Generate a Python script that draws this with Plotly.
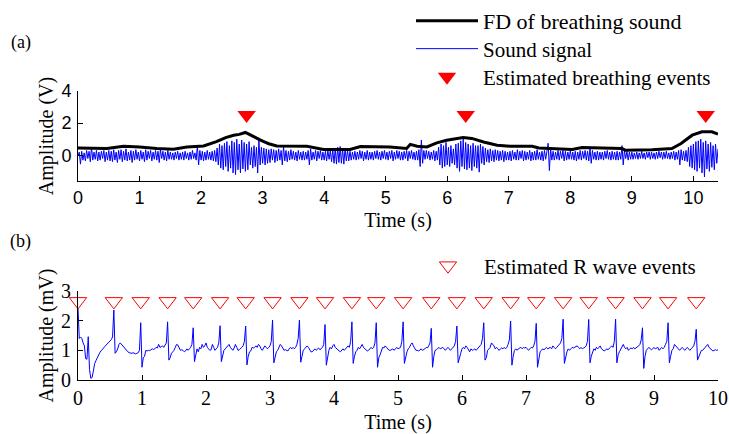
import numpy as np
import plotly.graph_objects as go

# ---------------- data ----------------
# (a) sound signal, sampled every 0.02 s from 0 to 10.4 s (read from picture)
sound_dt = 0.02
sound_rows = [
    [-0.05, 0.2, -0.55, 0.25, -0.3, 0.15, -0.35, 0.3, -0.2, 0.25, -0.4, 0.5, -0.3, 0.2, -0.25, 0.3, -0.35, 0.2, -0.3, 0.25, -0.2, 0.3, -0.4, 0.2, -0.3],
    [0.3, -0.35, 0.25, -0.4, 0.35, -0.3, 0.2, -0.45, 0.3, -0.25, 0.35, -0.4, 0.25, -0.3, 0.4, -0.35, 0.2, -0.3, 0.3, -0.45, 0.25, -0.3, 0.35, -0.25, 0.2],
    [-0.35, 0.3, -0.25, 0.2, -0.4, 0.35, -0.3, 0.25, -0.2, 0.3, -0.35, 0.2, -0.25, 0.3, -0.3, 0.25, -0.45, 0.35, -0.2, 0.25, -0.3, 0.2, -0.35, 0.3, -0.25],
    [0.2, -0.25, 0.15, -0.3, 0.2, -0.2, 0.25, -0.3, 0.15, -0.25, 0.2, -0.3, 0.25, -0.2, 0.15, -0.3, 0.2, -0.25, 0.3, -0.2, 0.15, -0.3, 0.6, -0.6, 0.3],
    [-0.3, 0.25, -0.35, 0.2, -0.3, 0.3, -0.25, 0.2, -0.3, 0.25, -0.35, 0.3, -0.4, 0.45, -0.6, 0.7, -0.8, 0.6, -0.9, 0.75, -0.7, 0.85, -1.0, 0.6, -0.8],
    [0.9, -1.1, 0.8, -1.2, 1.0, -0.9, 0.7, -1.1, 0.95, -0.85, 0.8, -1.0, 0.7, -0.9, 0.85, -0.6, 0.5, -0.8, 0.6, -0.7, 0.5, -1.1, 1.0, -0.6, 0.5],
    [-0.5, 0.45, -0.6, 0.4, -0.5, 0.35, -0.45, 0.4, -0.3, 0.35, -0.45, 0.3, -0.35, 0.4, -0.3, 0.3, -0.6, 0.55, -0.35, 0.3, -0.4, 0.25, -0.3, 0.35, -0.25],
    [0.25, -0.3, 0.2, -0.35, 0.3, -0.25, 0.2, -0.3, 0.25, -0.3, 0.2, -0.25, 0.3, -0.6, 0.4, -0.3, 0.2, -0.25, 0.3, -0.35, 0.25, -0.2, 0.3, -0.3, 0.2],
    [-0.3, 0.25, -0.35, 0.3, -0.25, 0.3, -0.4, 0.35, -0.5, 0.45, -0.55, 0.5, -0.45, 0.55, -0.5, 0.4, -0.55, 0.45, -0.35, 0.3, -0.35, 0.25, -0.3, 0.2, -0.25],
    [0.25, -0.3, 0.2, -0.25, 0.3, -0.2, 0.25, -0.35, 0.2, -0.25, 0.3, -0.3, 0.2, -0.25, 0.2, -0.3, 0.25, -0.2, 0.3, -0.25, 0.2, -0.3, 0.25, -0.2, 0.3],
    [-0.25, 0.2, -0.3, 0.25, -0.2, 0.3, -0.35, 0.2, -0.25, 0.3, -0.2, 0.25, -0.3, 0.2, -0.3, 0.25, -0.2, 0.3, -0.35, 0.25, -0.2, 0.3, -0.25, 0.2, -0.3],
    [0.25, -0.3, 0.35, -0.7, 0.95, -0.5, 0.3, -0.25, 0.3, -0.2, 0.25, -0.3, 0.2, -0.25, 0.3, -0.35, 0.25, -0.3, 0.5, -0.6, 0.7, -0.8, 0.6, -0.7, 0.8],
    [-0.6, 0.5, -0.7, 0.6, -0.5, 0.4, -0.6, 0.7, -0.8, 0.75, -1.0, 0.9, -0.7, 1.0, -0.85, 0.8, -0.9, 0.7, -0.8, 0.6, -0.95, 0.75, -0.7, 0.6, -0.8],
    [0.6, -1.05, 0.7, -0.5, 0.55, -0.6, 0.45, -0.4, 0.35, -0.45, 0.4, -0.35, 0.3, -0.4, 0.35, -0.3, 0.3, -0.35, 0.25, -0.3, 0.3, -0.4, 0.25, -0.3, 0.2],
    [-0.3, 0.25, -0.35, 0.3, -0.25, 0.2, -0.3, 0.35, -0.3, 0.25, -0.2, 0.3, -0.35, 0.25, -0.3, 0.2, -0.25, 0.3, -0.35, 0.2, -0.3, 0.25, -0.3, 0.35, -0.25],
    [0.2, -0.3, 0.25, -0.35, 0.3, -0.25, 0.2, 0.75, -0.95, 0.4, -0.3, 0.25, -0.3, 0.2, -0.25, 0.3, -0.3, 0.25, -0.2, 0.3, -0.35, 0.25, -0.3, 0.2, -0.25],
    [0.3, -0.25, 0.2, -0.3, 0.25, -0.35, 0.2, -0.25, 0.3, -0.3, 0.25, -0.2, 0.3, -0.3, 0.25, -0.35, 0.45, -0.5, 0.3, -0.25, 0.2, -0.3, 0.25, -0.3, 0.2],
    [-0.25, 0.2, -0.3, 0.25, -0.2, 0.3, -0.25, 0.2, -0.3, 0.25, -0.25, 0.2, -0.3, 0.25, -0.3, 0.2, -0.25, 0.6, -0.6, 0.3, -0.2, 0.25, -0.3, 0.2, -0.25],
    [0.2, -0.25, 0.15, -0.2, 0.2, -0.25, 0.15, -0.2, 0.25, -0.2, 0.15, -0.25, 0.2, -0.15, 0.2, -0.25, 0.2, -0.2, 0.15, -0.25, 0.2, -0.2, 0.25, -0.15, 0.2],
    [-0.25, 0.2, -0.2, 0.25, -0.2, 0.15, -0.25, 0.2, -0.2, 0.25, -0.3, 0.2, -0.25, 0.3, -0.6, 0.35, -0.3, 0.25, -0.35, 0.3, -0.4, 0.5, -0.7, 0.6, -0.8],
    [0.7, -0.9, 0.85, -1.0, 0.9, -0.8, 1.0, -1.1, 0.8, -1.35, 0.9, -0.85, 0.7, -1.0, 0.8, -0.75, 0.6, -0.9, 0.7, -0.5, 0.4],
]

# (a) FD of breathing sound
fd_t = [0, 0.47, 0.74, 1.0, 1.28, 1.55, 1.77, 2.04, 2.25, 2.4, 2.53, 2.62, 2.72, 2.85, 2.95, 3.01,
        3.1, 3.23, 3.45, 3.72, 3.99, 4.42, 4.59, 5.07, 5.34, 5.4, 5.51, 5.67, 5.83, 5.99, 6.26, 6.4,
        6.59, 6.81, 7.02, 7.38, 7.49, 8.03, 8.19, 8.84, 8.89, 9.33, 9.65, 9.8, 9.98, 10.14, 10.3, 10.4]
fd_v = [0.46, 0.42, 0.56, 0.52, 0.42, 0.38, 0.52, 0.58, 0.85, 1.1, 1.25, 1.3, 1.42, 1.2, 0.98, 0.87,
        0.72, 0.58, 0.58, 0.56, 0.36, 0.36, 0.55, 0.52, 0.42, 0.68, 0.56, 0.52, 0.77, 0.94, 1.1, 1.05,
        0.83, 0.63, 0.56, 0.56, 0.46, 0.36, 0.48, 0.42, 0.32, 0.35, 0.42, 0.73, 1.25, 1.46, 1.46, 1.32]

# (a) estimated breathing events
breath_t = [2.74, 6.30, 10.20]
breath_y = [2.5, 2.5, 2.5]

# (b) ECG, sampled every 0.02 s from 0 to 10 s
ecg_dt = 0.02
ecg_rows = [
    [2.42, 1.4, 1.45, 1.4, 1.25, 1.15, 0.72, 0.7, 1.46, 0.35, 0.06, 0.08, 0.3, 0.55, 0.65, 0.75, 0.85, 0.92, 0.98, 1.02, 1.08, 1.13, 1.18, 1.22, 1.28],
    [1.32, 1.36, 1.45, 2.36, 0.9, 0.95, 1.05, 1.2, 1.25, 1.2, 1.12, 1.1, 1.05, 0.98, 0.95, 0.92, 0.9, 0.9, 0.92, 0.9, 0.88, 0.9, 0.92, 1.0, 1.93],
    [0.43, 0.75, 0.8, 1.0, 0.98, 1.0, 0.99, 1.02, 1.05, 1.03, 1.05, 1.1, 1.08, 1.2, 1.1, 1.12, 1.15, 1.1, 1.2, 1.25, 1.96, 0.67, 0.75, 0.9, 0.95],
    [1.0, 1.1, 1.2, 1.18, 1.05, 1.0, 1.02, 1.0, 0.95, 0.98, 1.05, 1.0, 1.05, 1.1, 1.2, 1.76, 0.62, 0.8, 1.05, 0.95, 1.1, 1.05, 1.2, 1.1, 1.15],
    [1.25, 1.1, 1.05, 1.0, 1.02, 1.2, 1.1, 1.0, 1.05, 1.1, 1.25, 1.83, 0.62, 0.85, 1.0, 1.05, 1.1, 1.15, 1.2, 1.1, 1.05, 1.0, 1.08, 1.2, 1.1],
    [1.0, 1.02, 1.05, 1.1, 1.15, 1.3, 1.82, 0.51, 0.8, 0.95, 0.98, 1.1, 1.08, 1.1, 1.15, 1.1, 1.2, 1.15, 1.05, 1.0, 1.08, 1.15, 1.1, 1.05, 1.1],
    [1.15, 1.3, 2.02, 0.58, 0.8, 0.95, 1.0, 1.1, 1.2, 1.15, 1.05, 1.0, 1.02, 1.0, 0.98, 1.05, 1.1, 1.05, 1.1, 1.05, 1.1, 1.2, 1.4, 2.02, 0.6],
    [0.8, 1.0, 1.05, 1.1, 1.15, 1.1, 1.0, 0.95, 0.95, 1.0, 1.05, 1.0, 1.05, 1.08, 1.02, 1.05, 1.1, 1.2, 1.87, 0.5, 0.8, 1.0, 1.1, 1.05, 1.15],
    [1.2, 1.1, 1.05, 1.0, 0.98, 0.95, 1.0, 1.05, 1.0, 1.05, 1.1, 1.15, 1.1, 1.3, 1.96, 0.56, 0.8, 0.95, 1.0, 1.1, 1.05, 1.15, 1.2, 1.1, 1.05],
    [1.0, 0.98, 1.0, 1.05, 1.1, 1.05, 1.1, 1.25, 1.93, 0.43, 0.75, 0.85, 1.0, 1.1, 1.08, 1.15, 1.1, 1.05, 1.0, 1.0, 1.02, 1.05, 1.0, 1.05, 1.1],
    [1.05, 1.08, 1.1, 1.3, 1.96, 0.56, 0.8, 0.95, 1.05, 1.1, 1.2, 1.25, 1.15, 1.05, 1.0, 1.0, 0.98, 1.0, 1.05, 1.0, 1.02, 1.05, 1.1, 1.08, 1.15],
    [1.25, 1.74, 0.43, 0.8, 1.0, 1.02, 1.05, 1.1, 1.05, 1.08, 1.1, 1.05, 1.0, 1.05, 1.1, 1.05, 1.0, 1.05, 1.1, 1.15, 1.3, 1.82, 0.58, 0.8, 0.9],
    [1.05, 1.1, 1.05, 1.15, 1.1, 1.0, 0.95, 1.05, 1.0, 1.02, 1.05, 1.0, 1.05, 1.1, 1.15, 1.2, 1.4, 1.93, 0.67, 0.75, 1.0, 1.05, 1.1, 1.25, 1.2],
    [1.15, 1.05, 1.1, 1.05, 1.0, 1.05, 1.08, 1.05, 1.1, 1.05, 1.1, 1.2, 1.35, 1.99, 0.5, 0.8, 1.0, 1.05, 1.0, 1.05, 1.08, 1.1, 1.05, 1.1, 1.08],
    [1.1, 1.05, 1.0, 1.05, 1.1, 1.08, 1.15, 1.3, 1.91, 0.43, 0.75, 0.95, 1.0, 1.05, 1.02, 1.05, 1.1, 1.05, 1.08, 1.1, 1.05, 1.15, 1.1, 1.05, 1.1],
    [1.15, 1.2, 1.25, 1.4, 2.05, 0.56, 0.8, 0.95, 1.05, 1.0, 1.05, 1.1, 1.08, 1.1, 1.12, 1.15, 1.1, 1.05, 1.1, 1.05, 1.08, 1.1, 1.15, 1.3, 2.04],
    [0.58, 0.8, 0.95, 1.05, 1.0, 1.1, 1.05, 1.1, 1.15, 1.05, 1.0, 0.98, 1.0, 1.05, 1.02, 1.05, 1.1, 1.15, 1.1, 1.3, 2.05, 0.58, 0.85, 0.95, 1.05],
    [1.1, 1.2, 1.1, 1.05, 1.1, 1.0, 1.05, 1.08, 1.05, 1.1, 1.05, 1.08, 1.1, 1.15, 1.2, 1.35, 1.76, 0.39, 0.8, 1.0, 1.05, 1.1, 1.05, 1.02, 1.05],
    [1.1, 1.05, 1.08, 1.1, 1.0, 1.05, 1.1, 1.05, 1.1, 1.2, 1.3, 1.93, 0.58, 0.8, 1.0, 1.05, 1.2, 1.15, 1.1, 1.05, 1.0, 1.05, 1.1, 1.05, 1.0],
    [1.05, 1.1, 1.05, 1.0, 1.05, 1.1, 1.15, 1.3, 1.71, 0.67, 0.8, 0.9, 1.0, 1.0, 1.05, 1.1, 1.15, 1.2, 1.1, 1.05, 1.0, 0.98, 1.0, 1.02, 1.0],
    [1.02],
]

# (b) estimated R wave events
r_t = [0.0, 0.56, 0.98, 1.40, 1.80, 2.22, 2.62, 3.04, 3.46, 3.86, 4.28, 4.66,
       5.08, 5.52, 5.92, 6.34, 6.76, 7.16, 7.58, 7.98, 8.40, 8.82, 9.22, 9.66]
r_y = [2.65] * len(r_t)

xticks_a = list(range(0, 11))
yticks_a = [0, 2, 4]
xticks_b = list(range(0, 11))
yticks_b = [0, 1, 2, 3]

# ---------------- figure ----------------
sound_v = [v for row in sound_rows for v in row]
sound_t = np.arange(len(sound_v)) * sound_dt
ecg_v = [v for row in ecg_rows for v in row]
ecg_t = np.arange(len(ecg_v)) * ecg_dt

W, H = 729, 434
def fx(p):
    return p / W
def fy(p):
    return 1 - p / H

SERIF = "Liberation Serif, Times New Roman, serif"
SANS = "Liberation Sans, Arial, sans-serif"
BLUE = "#0000FF"

fig = go.Figure()
fig.add_trace(go.Scatter(x=sound_t, y=sound_v, mode="lines", name="Sound signal",
                         line=dict(color=BLUE, width=1), legend="legend2",
                         xaxis="x", yaxis="y"))
fig.add_trace(go.Scatter(x=fd_t, y=fd_v, mode="lines", name="FD of breathing sound",
                         line=dict(color="black", width=3), legend="legend",
                         xaxis="x", yaxis="y"))
fig.add_trace(go.Scatter(x=breath_t, y=breath_y, mode="markers", name="Estimated breathing events",
                         marker=dict(symbol="triangle-down", size=16, color="#FF0000"),
                         legend="legend3", cliponaxis=False, xaxis="x", yaxis="y"))
fig.add_trace(go.Scatter(x=ecg_t, y=ecg_v, mode="lines", name="ECG",
                         line=dict(color=BLUE, width=1), showlegend=False,
                         xaxis="x2", yaxis="y2"))
fig.add_trace(go.Scatter(x=r_t, y=r_y, mode="markers", name="Estimated R wave events",
                         marker=dict(symbol="triangle-down-open", size=15, color="#FF0000",
                                     line=dict(color="#FF0000", width=1)),
                         legend="legend4", cliponaxis=False, xaxis="x2", yaxis="y2"))

axis_common = dict(showline=True, linecolor="black", linewidth=1, ticks="inside",
                   ticklen=5, tickcolor="black", tickwidth=1, showgrid=False,
                   zeroline=False, automargin=False, mirror=False)

xdom = [fx(78), fx(718)]
fig.update_layout(
    width=W, height=H, autosize=False,
    margin=dict(l=0, r=0, t=0, b=0),
    paper_bgcolor="white", plot_bgcolor="white",
    font=dict(family=SERIF, size=20, color="black"),
    xaxis=dict(domain=xdom, range=[0, 10.4], anchor="y", tickvals=xticks_a,
               tickfont=dict(family=SANS, size=18), ticklabelstandoff=0,
               title=dict(text="Time (s)", font=dict(family=SERIF, size=20), standoff=6),
               **axis_common),
    yaxis=dict(domain=[fy(181), fy(91)], range=[-1.6, 4], anchor="x", tickvals=yticks_a,
               tickfont=dict(family=SANS, size=18), ticklabelstandoff=2,
               title=dict(text="Amplitude (V)", font=dict(family=SERIF, size=20), standoff=2),
               **axis_common),
    xaxis2=dict(domain=xdom, range=[0, 10], anchor="y2", tickvals=xticks_b,
                tickfont=dict(family=SERIF, size=20), ticklabelstandoff=0,
                title=dict(text="Time (s)", font=dict(family=SERIF, size=20), standoff=6),
                **axis_common),
    yaxis2=dict(domain=[fy(380), fy(291)], range=[0, 3], anchor="x2", tickvals=yticks_b,
                tickfont=dict(family=SERIF, size=20), ticklabelstandoff=2,
                title=dict(text="Amplitude (mV)", font=dict(family=SERIF, size=20), standoff=2),
                **axis_common),
    showlegend=True,
)

leg_common = dict(xanchor="left", yanchor="middle", bgcolor="rgba(0,0,0,0)", borderwidth=0)
fig.update_layout(
    legend=dict(x=fx(411), y=fy(21), itemwidth=62,
                font=dict(family=SERIF, size=22, color="black"), **leg_common),
    legend2=dict(x=fx(411), y=fy(49), itemwidth=62,
                 font=dict(family=SERIF, size=21, color="black"), **leg_common),
    legend3=dict(x=fx(411), y=fy(77), itemwidth=62,
                 font=dict(family=SERIF, size=21, color="black"), **leg_common),
    legend4=dict(x=fx(412), y=fy(266), itemwidth=62,
                 font=dict(family=SERIF, size=21, color="black"), **leg_common),
)

fig.add_annotation(text="(a)", x=fx(9), y=fy(42), xref="paper", yref="paper",
                   xanchor="left", yanchor="middle", showarrow=False,
                   font=dict(family=SERIF, size=18))
fig.add_annotation(text="(b)", x=fx(8), y=fy(241), xref="paper", yref="paper",
                   xanchor="left", yanchor="middle", showarrow=False,
                   font=dict(family=SERIF, size=18))

fig.write_html("out.html", config={"displayModeBar": False},
               post_script="document.body.style.margin='0';")
